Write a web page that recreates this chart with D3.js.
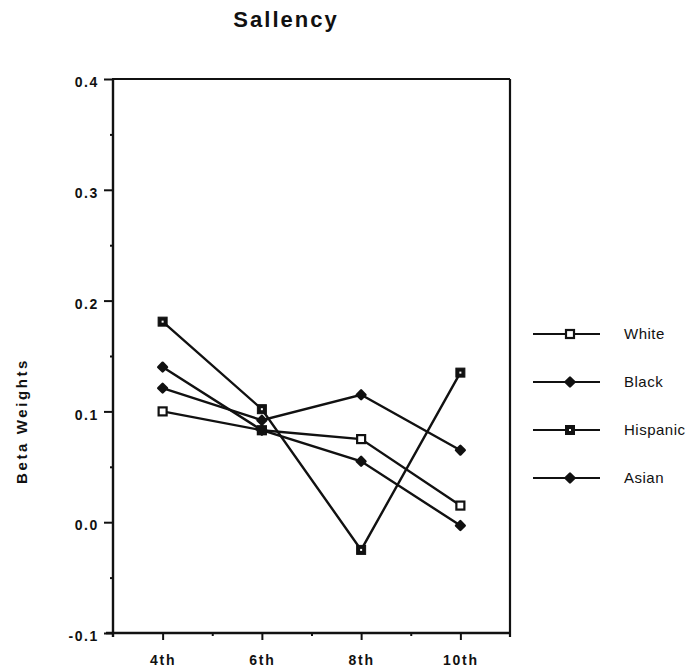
<!DOCTYPE html>
<html>
<head>
<meta charset="utf-8">
<script src="https://cdn.jsdelivr.net/npm/d3@7/dist/d3.min.js"></script>
<style>
  html, body { margin: 0; padding: 0; background: #fff; }
  svg { display: block; }
  text { font-family: "Liberation Sans", Arial, Helvetica, sans-serif; fill: #111; }
</style>
</head>
<body>
<svg id="chart" width="697" height="670"></svg>
<script>
// ---- data ----
const grades = ["4th", "6th", "8th", "10th"];
const gradeNums = [4, 6, 8, 10];
const minorGrades = [5, 7, 9];
const seriesNames = ["White", "Black", "Hispanic", "Asian"];
const whiteVals = [0.100, 0.083, 0.075, 0.015];
const blackVals = [0.140, 0.083, 0.055, -0.003];
const hispanicVals = [0.181, 0.102, -0.025, 0.135];
const asianVals = [0.121, 0.092, 0.115, 0.065];
const yTickValues = [-0.1, 0.0, 0.1, 0.2, 0.3, 0.4];
const yTickLabels = ["-0.1", "0.0", "0.1", "0.2", "0.3", "0.4"];
const yMinorValues = [-0.05, 0.05, 0.15, 0.25, 0.35];
const titleText = "Sallency";
const yLabelText = "Beta  Weights";

const series = [
  { name: "White", values: whiteVals, marker: "openSquare" },
  { name: "Black", values: blackVals, marker: "diamond" },
  { name: "Hispanic", values: hispanicVals, marker: "dotSquare" },
  { name: "Asian", values: asianVals, marker: "diamond" }
];

const svg = d3.select("#chart");
const L = 113, R = 510, T = 79, B = 633;
const x = d3.scaleLinear().domain([3, 11]).range([L, R]);
const y = d3.scaleLinear().domain([-0.1, 0.4]).range([B, T]);

// title
svg.append("text")
  .attr("x", 286).attr("y", 27)
  .attr("text-anchor", "middle")
  .style("font-size", "22px").style("font-weight", "bold")
  .style("letter-spacing", "2px")
  .text(titleText);

// y label
svg.append("text")
  .attr("transform", "translate(27,421) rotate(-90)")
  .attr("text-anchor", "middle")
  .style("font-size", "15px").style("font-weight", "bold")
  .style("letter-spacing", "2.6px")
  .text(yLabelText);

// frame: top & right
svg.append("line").attr("x1", L - 1).attr("x2", R).attr("y1", T).attr("y2", T)
  .attr("stroke", "#111").attr("stroke-width", 2.2);
svg.append("line").attr("x1", R).attr("x2", R).attr("y1", T).attr("y2", B + 4)
  .attr("stroke", "#111").attr("stroke-width", 2.2);

// y axis
const yAxis = d3.axisLeft(y).tickValues(yTickValues)
  .tickFormat((d, i) => yTickLabels[i]).tickSize(9).tickPadding(6);
const gy = svg.append("g").attr("transform", `translate(${L},0)`).call(yAxis);
gy.select(".domain").remove();
gy.selectAll(".tick line").attr("stroke", "#111").attr("stroke-width", 2);
gy.selectAll(".tick text")
  .style("font-size", "14px").style("font-weight", "bold")
  .style("letter-spacing", "1.6px")
  .attr("dy", "0.55em").attr("x", -14);
const yMinor = d3.axisLeft(y).tickValues(yMinorValues).tickSize(3).tickFormat("");
const gym = svg.append("g").attr("transform", `translate(${L},0)`).call(yMinor);
gym.select(".domain").remove();
gym.selectAll(".tick line").attr("stroke", "#111").attr("stroke-width", 2);
svg.append("line").attr("x1", L).attr("x2", L).attr("y1", T).attr("y2", B + 4)
  .attr("stroke", "#111").attr("stroke-width", 2.4);

// x axis
const xAxis = d3.axisBottom(x).tickValues(gradeNums)
  .tickFormat((d, i) => grades[i]).tickSize(7).tickPadding(15);
const gx = svg.append("g").attr("transform", `translate(0,${B})`).call(xAxis);
gx.select(".domain").remove();
gx.selectAll(".tick line").attr("stroke", "#111").attr("stroke-width", 2);
gx.selectAll(".tick text")
  .style("font-size", "14px").style("font-weight", "bold")
  .style("letter-spacing", "1.8px");
const xMinor = d3.axisBottom(x).tickValues(minorGrades).tickSize(3).tickFormat("");
const gxm = svg.append("g").attr("transform", `translate(0,${B})`).call(xMinor);
gxm.select(".domain").remove();
gxm.selectAll(".tick line").attr("stroke", "#111").attr("stroke-width", 2);
svg.append("line").attr("x1", L - 7).attr("x2", R).attr("y1", B).attr("y2", B)
  .attr("stroke", "#111").attr("stroke-width", 2.4);

// marker drawing
function drawMarker(g, type, cx, cy) {
  if (type === "openSquare") {
    g.append("rect").attr("x", cx - 4).attr("y", cy - 4).attr("width", 8).attr("height", 8)
      .attr("fill", "#fff").attr("stroke", "#111").attr("stroke-width", 2.2);
  } else if (type === "dotSquare") {
    g.append("rect").attr("x", cx - 4.5).attr("y", cy - 4.5).attr("width", 9).attr("height", 9)
      .attr("fill", "#111").attr("stroke", "#111").attr("stroke-width", 1);
    g.append("rect").attr("x", cx - 1).attr("y", cy - 1).attr("width", 2).attr("height", 2)
      .attr("fill", "#fff");
  } else {
    g.append("path").attr("d", d3.symbol().type(d3.symbolDiamond2).size(48)())
      .attr("transform", `translate(${cx},${cy})`)
      .attr("fill", "#111").attr("stroke", "#111").attr("stroke-width", 2.5)
      .attr("stroke-linejoin", "round");
  }
}

const line = d3.line().x((d, i) => x(gradeNums[i])).y(d => y(d));
const plot = svg.append("g");
series.forEach(s => {
  plot.append("path").attr("d", line(s.values))
    .attr("fill", "none").attr("stroke", "#111").attr("stroke-width", 2.4);
});
series.forEach(s => {
  s.values.forEach((v, i) => drawMarker(plot, s.marker, x(gradeNums[i]), y(v)));
});

// legend
const legendY = d3.scalePoint().domain(seriesNames).range([334, 478]);
const lg = svg.append("g");
series.forEach(s => {
  const ly = legendY(s.name);
  lg.append("line").attr("x1", 533).attr("x2", 600).attr("y1", ly).attr("y2", ly)
    .attr("stroke", "#111").attr("stroke-width", 2.2);
  drawMarker(lg, s.marker, 570, ly);
  lg.append("text").attr("x", 624).attr("y", ly + 5)
    .style("font-size", "15px").style("letter-spacing", "0.5px")
    .text(s.name);
});
</script>
</body>
</html>
